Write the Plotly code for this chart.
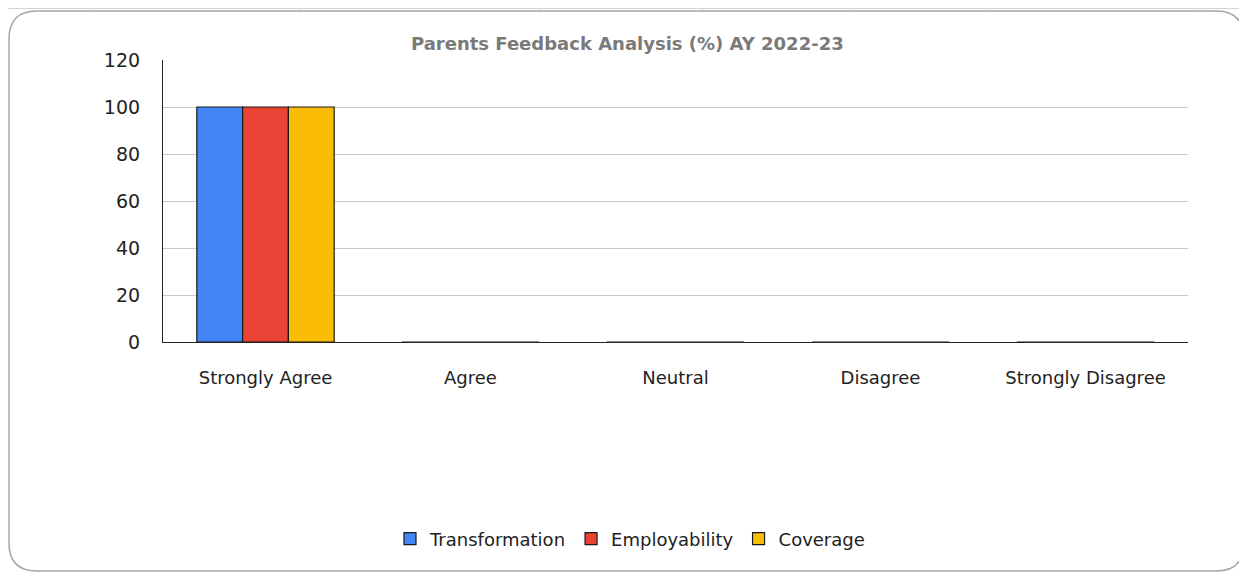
import plotly.graph_objects as go

categories = ["Strongly Agree", "Agree", "Neutral", "Disagree", "Strongly Disagree"]
transformation = [100, 0, 0, 0, 0]
employability = [100, 0, 0, 0, 0]
coverage = [100, 0, 0, 0, 0]
y_ticks = [0, 20, 40, 60, 80, 100, 120]
title_text = "Parents Feedback Analysis (%) AY 2022-23"

OFF = 8  # browser default body margin
W, H = 1247 - OFF, 573 - OFF
L, R, T, B = 163 - OFF, 1188 - OFF, 60 - OFF, 342 - OFF
FONT = "DejaVu Sans"

def px(x):
    return (x - OFF - L) / (R - L)

def py(y):
    return (B - (y - OFF)) / (B - T)

fig = go.Figure()
for name, vals, col in [("Transformation", transformation, "#4285F4"),
                        ("Employability", employability, "#EA4335"),
                        ("Coverage", coverage, "#FBBC04")]:
    fig.add_trace(go.Bar(x=categories, y=vals, name=name, marker_color=col,
                         marker_line_color="#1a1a1a", marker_line_width=1.2))

# rounded chart border
x0, y0, x1, y1, r = 9, 11, 1244, 571, 28
path = (f"M {px(x0+r)},{py(y0)} L {px(x1-r)},{py(y0)} "
        f"Q {px(x1)},{py(y0)} {px(x1)},{py(y0+r)} "
        f"L {px(x1)},{py(y1-r)} Q {px(x1)},{py(y1)} {px(x1-r)},{py(y1)} "
        f"L {px(x0+r)},{py(y1)} Q {px(x0)},{py(y1)} {px(x0)},{py(y1-r)} "
        f"L {px(x0)},{py(y0+r)} Q {px(x0)},{py(y0)} {px(x0+r)},{py(y0)} Z")
shapes = [dict(type="path", path=path, xref="paper", yref="paper",
               line=dict(color="#a6a6a6", width=1.5), layer="below")]
shapes.append(dict(type="line", xref="paper", yref="paper", x0=px(OFF), x1=px(1247),
                   y0=py(OFF + 0.5), y1=py(OFF + 0.5), line=dict(color="#d4d4d4", width=1), layer="below"))
for gx in [91, 300, 540, 703, 850, 987, 1200]:
    shapes.append(dict(type="line", xref="paper", yref="paper", x0=px(gx), x1=px(gx),
                       y0=py(OFF), y1=py(10), line=dict(color="#d4d4d4", width=1), layer="below"))

fig.update_layout(
    width=W, height=H,
    margin=dict(l=L, r=W - R, t=T, b=H - B, autoexpand=False),
    paper_bgcolor="white", plot_bgcolor="white",
    barmode="group", bargap=0.33, bargroupgap=0,
    font=dict(family=FONT, size=18, color="#222"),
    showlegend=True,
    legend=dict(orientation="h", x=px(630), xanchor="center", y=py(539), yanchor="middle",
                font=dict(size=18, color="#222"), traceorder="normal",
                itemwidth=30, tracegroupgap=0),
    shapes=shapes,
    annotations=[dict(text=f"<b>{title_text}</b>", xref="paper", yref="paper",
                      x=px(627), y=py(44), xanchor="center", yanchor="middle",
                      showarrow=False, font=dict(size=18, color="#7a7a7a", family=FONT))],
)
fig.update_xaxes(showline=True, linecolor="#222", linewidth=1.2, ticks="",
                 ticklabelstandoff=19, tickfont=dict(size=18, color="#222"),
                 showgrid=False)
fig.update_yaxes(range=[0, 120], tickvals=y_ticks, showline=True, linecolor="#222",
                 linewidth=1.2, ticks="", ticklabelstandoff=18,
                 gridcolor="#c8c8c8", gridwidth=1, zeroline=False,
                 tickfont=dict(size=19, color="#222"))

fig.write_html("out.html")
